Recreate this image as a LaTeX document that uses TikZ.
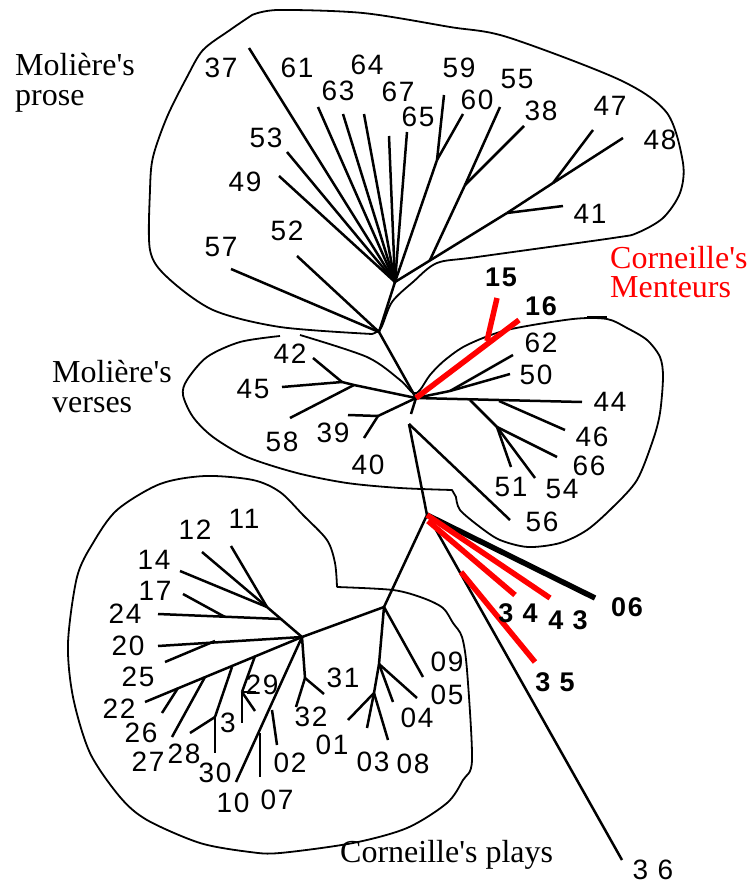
\documentclass[tikz,border=0pt]{standalone}
\usepackage{fontspec}
\usetikzlibrary{calc}
\setmainfont{Liberation Serif}[Ligatures=TeXOff]
\newfontfamily\numf{Liberation Sans}[LetterSpace=6.0]
\begin{document}
\begin{tikzpicture}[x=1pt,y=-1pt,
  br/.style={line width=2.5pt,line join=round},
  bnd/.style={line width=1.8pt,line join=round},
  redbr/.style={line width=5.5pt,red},
  thickbr/.style={line width=5.5pt,black},
  lab/.style={inner sep=0pt,font=\numf\fontsize{28}{28}\selectfont},
  blab/.style={inner sep=0pt,font=\numf\bfseries\fontsize{27}{27}\selectfont},
  grp/.style={inner sep=0pt,anchor=base west,font=\fontsize{32}{32}\selectfont}]
\useasboundingbox (0,0) rectangle (751,886);

% ---------- cluster boundaries ----------
\draw[bnd] plot[smooth,tension=0.5] coordinates {(252,15) (278,10) (363,13) (450,27) (507,37) (620,80) (667,113) (683,163) (680,193) (663,218) (637,233) (613,238) (477,257) (437,263) (413,282) (392,302) (381,328) (372,334)}
  -- plot[smooth,tension=0.5] coordinates {(372,334) (280,327) (213,310) (167,277) (150,250) (150,190) (153,157) (167,117) (187,77) (203,50) (230,30) (252,15)};
\draw[bnd] plot[smooth,tension=0.5] coordinates {(300,335) (367,357) (400,380) (413,393) (420,390) (430,375) (445,360) (467,345) (507,330) (573,319) (607,319) (627,328) (647,340) (660,357) (663,377) (660,413) (653,440) (637,480) (613,507) (587,530) (560,543) (528,547) (500,540) (480,527) (460,510) (456,497)}
  -- (452,490) -- plot[smooth,tension=0.5] coordinates {(452,490) (400,488) (347,483) (297,473) (247,457) (213,437) (193,417) (183,395) (187,380) (207,357) (240,342) (280,336)};
\coordinate (tk1) at (587,317);
\coordinate (tk2) at (607,317);
\draw[bnd] (tk1) -- (tk2);
\draw[bnd] plot[smooth,tension=0.5] coordinates {(337,587) (335,563) (327,540) (303,515) (280,492) (253,480) (205,476) (160,484) (117,510) (93,543) (77,577) (68,643) (73,697) (90,753) (120,797) (147,820) (200,843) (250,852) (280,853) (353,843) (407,828) (447,803) (463,780) (472,760) (467,670) (462,637) (453,623) (443,608) (423,598) (393,590) (337,587)};

% ---------- internal junctions ----------
\coordinate (H1) at (395,282);
\coordinate (H1b) at (379,332);
\coordinate (H2) at (416,398);
\coordinate (n59) at (437,160);
\coordinate (n41) at (507,213);
\coordinate (n47) at (553,183);
\coordinate (n55) at (465,185);
\coordinate (n55s) at ($(H1)!0.31!(n41)$);
\coordinate (n58) at (354,385);
\coordinate (n42) at (342,382);
\coordinate (n39) at (378,416);
\coordinate (n62) at (450,391);
\coordinate (n46) at (499,401);
\coordinate (n66s) at (470,400);
\coordinate (n66) at (497,427);
\coordinate (g1) at (411,414);
\coordinate (n56) at (409,424);
\coordinate (n15) at (487,341);
\coordinate (C0) at (427,515);
\coordinate (C0b) at (428,521);
\coordinate (C0c) at (431,521);
\coordinate (n35) at (461,572);
\coordinate (C1) at (384,607);
\coordinate (C2) at (302,637);
\coordinate (C3) at (379,664);
\coordinate (C4) at (374,693);
\coordinate (C5) at (305,678);
\coordinate (n02) at (272,710);
\coordinate (n07) at (260,733);
\coordinate (n29) at (255,656);
\coordinate (n29b) at (242,692);
\coordinate (n13) at (232,667);
\coordinate (n13b) at (215,717);
\coordinate (n27) at (205,677);
\coordinate (n26) at (178,688);
\coordinate (n25) at (215,641);
\coordinate (nA) at (267,607);
\coordinate (n24) at (281,619);
\coordinate (n17) at (225,617);

% ---------- leaf ends ----------
\coordinate (e37) at (249,48);
\coordinate (e61) at (318,107);
\coordinate (e63) at (343,114);
\coordinate (e64) at (364,114);
\coordinate (e67) at (389,136);
\coordinate (e65) at (407,132);
\coordinate (e53) at (287,152);
\coordinate (e49) at (279,176);
\coordinate (e59) at (444,95);
\coordinate (e60) at (463,114);
\coordinate (e55) at (500,107);
\coordinate (e38) at (524,126);
\coordinate (e41) at (563,206);
\coordinate (e47) at (593,130);
\coordinate (e48) at (623,138);
\coordinate (e52) at (297,256);
\coordinate (e57) at (231,269);
\coordinate (e58) at (290,418);
\coordinate (e42) at (313,358);
\coordinate (e45) at (282,387);
\coordinate (e39) at (348,415);
\coordinate (e40) at (364,438);
\coordinate (e62) at (513,355);
\coordinate (e50) at (510,374);
\coordinate (e44) at (582,402);
\coordinate (e46) at (565,430);
\coordinate (e66) at (557,457);
\coordinate (e51) at (511,467);
\coordinate (e54) at (535,478);
\coordinate (e56) at (510,520);
\coordinate (e16) at (519,320);
\coordinate (e15) at (497,298);
\coordinate (e06) at (595,598);
\coordinate (e43) at (550,598);
\coordinate (e34) at (515,595);
\coordinate (e36) at (622,860);
\coordinate (e35) at (535,662);
\coordinate (e09) at (423,677);
\coordinate (e05) at (417,698);
\coordinate (e04) at (393,702);
\coordinate (e01) at (348,720);
\coordinate (e03) at (367,728);
\coordinate (e08) at (388,740);
\coordinate (e31) at (324,694);
\coordinate (e32) at (296,707);
\coordinate (e10) at (236,782);
\coordinate (e02) at (277,745);
\coordinate (e07) at (260,777);
\coordinate (e22) at (145,702);
\coordinate (e29a) at (242,723);
\coordinate (e29b) at (255,711);
\coordinate (e29c) at (256,692);
\coordinate (e30) at (215,753);
\coordinate (e28) at (190,733);
\coordinate (e27) at (172,737);
\coordinate (e26) at (162,713);
\coordinate (e20) at (158,646);
\coordinate (e25) at (165,662);
\coordinate (e14) at (180,571);
\coordinate (e12) at (202,552);
\coordinate (e11) at (231,546);
\coordinate (e24) at (158,614);
\coordinate (e17) at (183,594);

% ---------- tree (black) ----------
\foreach \e in {e37,e61,e63,e64,e67,e65,e53,e49,n59} \draw[br] (H1) -- (\e);
\draw[br] (n59) -- (e59);
\draw[br] (n59) -- (e60);
\draw[br] (H1) -- (n41);
\draw[br] (n41) -- (n47);
\draw[br] (n41) -- (e41);
\draw[br] (n47) -- (e47);
\draw[br] (n47) -- (e48);
\draw[br] (n55s) -- (n55);
\draw[br] (n55) -- (e55);
\draw[br] (n55) -- (e38);
\draw[br] (H1) -- (H1b);
\draw[br] (H1b) -- (e52);
\draw[br] (H1b) -- (e57);
\draw[br] (H1b) -- (H2);
\draw[br] (H2) -- (n58) -- (n42);
\draw[br] (n58) -- (e58);
\draw[br] (n42) -- (e42);
\draw[br] (n42) -- (e45);
\draw[br] (H2) -- (n39);
\draw[br] (n39) -- (e39);
\draw[br] (n39) -- (e40);
\draw[br] (H2) -- (n62);
\draw[br] (n62) -- (e62);
\draw[br] (n62) -- (e50);
\draw[br] (H2) -- (e44);
\draw[br] (n46) -- (e46);
\draw[br] (n66s) -- (n66);
\draw[br] (n66) -- (e66);
\draw[br] (n66) -- (e51);
\draw[br] (n66) -- (e54);
\draw[br] (H2) -- (g1);
\draw[br] (n56) -- (e56);
\draw[br] (n56) -- (C0);
\draw[thickbr] (C0) -- (e06);
\draw[br] (C0c) -- (e36);
\draw[br] (C0) -- (C1);
\draw[br] (C1) -- (e09);
\draw[br] (C1) -- (C3);
\draw[br] (C3) -- (e05);
\draw[br] (C3) -- (e04);
\draw[br] (C3) -- (C4);
\draw[br] (C4) -- (e01);
\draw[br] (C4) -- (e03);
\draw[br] (C4) -- (e08);
\draw[br] (C1) -- (C2);
\draw[br] (C2) -- (C5);
\draw[br] (C5) -- (e31);
\draw[br] (C5) -- (e32);
\draw[br] (C2) -- (e10);
\draw[br] (n02) -- (e02);
\draw[br] (n07) -- (e07);
\draw[br] (C2) -- (e22);
\draw[br] (n29) -- (n29b);
\draw[br] (n29b) -- (e29a);
\draw[br] (n29b) -- (e29b);
\draw[br] (n29b) -- (e29c);
\draw[br] (n13) -- (n13b);
\draw[br] (n13b) -- (e30);
\draw[br] (n13b) -- (e28);
\draw[br] (n27) -- (e27);
\draw[br] (n26) -- (e26);
\draw[br] (C2) -- (e20);
\draw[br] (n25) -- (e25);
\draw[br] (C2) -- (nA);
\draw[br] (nA) -- (e14);
\draw[br] (nA) -- (e12);
\draw[br] (nA) -- (e11);
\draw[br] (n24) -- (e24);
\draw[br] (n17) -- (e17);

% ---------- red branches ----------
\draw[redbr] (H2) -- (e16);
\draw[redbr] (n15) -- (e15);
\draw[redbr] (C0) -- (e43);
\draw[redbr] (C0b) -- (e34);
\draw[redbr] (n35) -- (e35);

% ---------- leaf labels ----------
\node[lab] (l37) at (221,68) {37};
\node[lab] (l61) at (297,68) {61};
\node[lab] (l64) at (367,65) {64};
\node[lab] (l63) at (338,91) {63};
\node[lab] (l67) at (398,92) {67};
\node[lab] (l65) at (418,117) {65};
\node[lab] (l53) at (266,138) {53};
\node[lab] (l49) at (245,182) {49};
\node[lab] (l52) at (287,231) {52};
\node[lab] (l57) at (221,247) {57};
\node[lab] (l59) at (459,68) {59};
\node[lab] (l60) at (477,100) {60};
\node[lab] (l55) at (517,79) {55};
\node[lab] (l38) at (541,111) {38};
\node[lab] (l47) at (610,106) {47};
\node[lab] (l48) at (660,140) {48};
\node[lab] (l41) at (590,214) {41};
\node[blab] (l15) at (501,277) {15};
\node[blab] (l16) at (541,306) {16};
\node[lab] (l42) at (290,354) {42};
\node[lab] (l45) at (253,389) {45};
\node[lab] (l58) at (282,442) {58};
\node[lab] (l39) at (333,433) {39};
\node[lab] (l40) at (368,465) {40};
\node[lab] (l62) at (541,343) {62};
\node[lab] (l50) at (536,375) {50};
\node[lab] (l44) at (610,402) {44};
\node[lab] (l46) at (592,437) {46};
\node[lab] (l66) at (589,466) {66};
\node[lab] (l51) at (511,487) {51};
\node[lab] (l54) at (562,489) {54};
\node[lab] (l56) at (542,522) {56};
\node[blab] (l34) at (518,613) {3 4};
\node[blab] (l43) at (568,620) {4 3};
\node[blab] (l06) at (627,607) {06};
\node[blab] (l35) at (555,682) {3 5};
\node[lab] (l36) at (653,870) {3 6};
\node[lab] (l09) at (447,662) {09};
\node[lab] (l05) at (447,695) {05};
\node[lab] (l04) at (417,718) {04};
\node[lab] (l01) at (332,745) {01};
\node[lab] (l03) at (373,762) {03};
\node[lab] (l08) at (413,764) {08};
\node[lab] (l31) at (343,678) {31};
\node[lab] (l32) at (311,717) {32};
\node[lab] (l12) at (195,530) {12};
\node[lab] (l11) at (244,519) {11};
\node[lab] (l14) at (154,560) {14};
\node[lab] (l17) at (155,591) {17};
\node[lab] (l24) at (125,614) {24};
\node[lab] (l20) at (128,646) {20};
\node[lab] (l25) at (138,677) {25};
\node[lab] (l22) at (119,709) {22};
\node[lab] (l26) at (141,733) {26};
\node[lab] (l27) at (148,762) {27};
\node[lab] (l28) at (184,754) {28};
\node[lab] (l30) at (215,773) {30};
\node[lab] (l3) at (228,723) {3};
\node[lab] (l29) at (262,685) {29};
\node[lab] (l02) at (290,763) {02};
\node[lab] (l07) at (277,800) {07};
\node[lab] (l10) at (233,803) {10};

% ---------- group labels ----------
\node[grp] (mp1) at (15,75) {Molière's};
\node[grp] (mp2) at (15,105) {prose};
\node[grp] (mv1) at (52,382) {Molière's};
\node[grp] (mv2) at (52,412) {verses};
\node[grp,red] (cm1) at (610,268) {Corneille's};
\node[grp,red] (cm2) at (610,297) {Menteurs};
\node[grp] (cp) at (340,862) {Corneille's plays};
\end{tikzpicture}
\end{document}
